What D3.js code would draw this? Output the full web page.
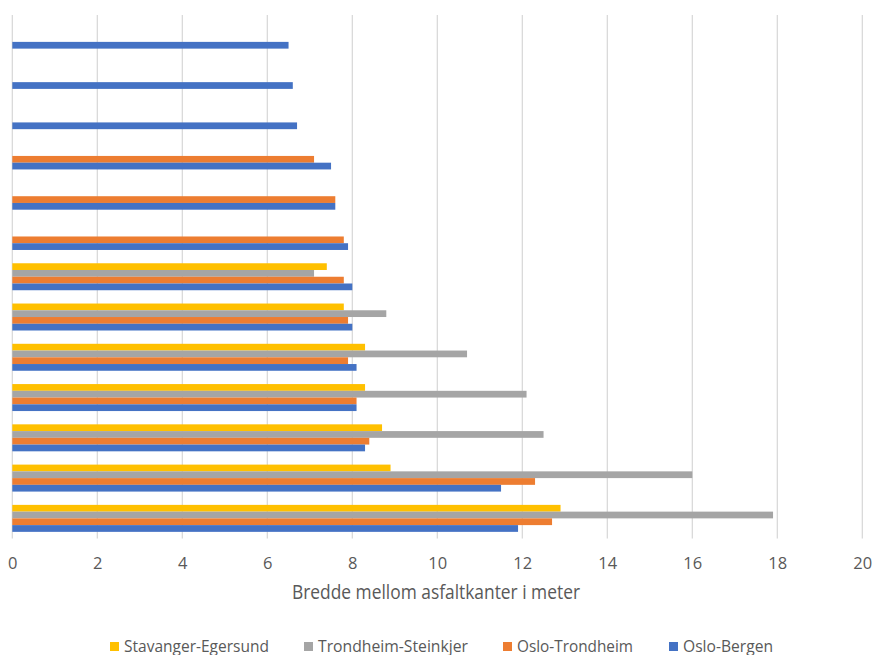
<!DOCTYPE html>
<html>
<head>
<meta charset="utf-8">
<script src="https://cdn.jsdelivr.net/npm/d3@7"></script>
<style>
  html, body { margin: 0; padding: 0; background: #ffffff; }
  svg { display: block; }
  text { font-family: "Open Sans", "Noto Sans", sans-serif; fill: #595959; }
</style>
</head>
<body>
<svg id="chart" width="875" height="655"></svg>
<script>
// Categories (unlabelled road-width groups, top to bottom)
const categories = ["1","2","3","4","5","6","7","8","9","10","11","12","13"];
// Series drawn top-to-bottom inside each group
const seriesNames = ["Stavanger-Egersund","Trondheim-Steinkjer","Oslo-Trondheim","Oslo-Bergen"];
const seriesColors = ["#FFC000","#A5A5A5","#ED7D31","#4472C4"];
// Values (metres); null = no bar
const stavangerEgersund  = [null, null, null, null, null, null, 7.4, 7.8, 8.3, 8.3, 8.7, 8.9, 12.9];
const trondheimSteinkjer = [null, null, null, null, null, null, 7.1, 8.8, 10.7, 12.1, 12.5, 16.0, 17.9];
const osloTrondheim      = [null, null, null, 7.1, 7.6, 7.8, 7.8, 7.9, 7.9, 8.1, 8.4, 12.3, 12.7];
const osloBergen         = [6.5, 6.6, 6.7, 7.5, 7.6, 7.9, 8.0, 8.0, 8.1, 8.1, 8.3, 11.5, 11.9];
const xTicks = [0,2,4,6,8,10,12,14,16,18,20];
const xTitle = "Bredde mellom asfaltkanter i meter";
// Legend order as shown
const legendOrder = ["Stavanger-Egersund","Trondheim-Steinkjer","Oslo-Trondheim","Oslo-Bergen"];

const seriesValues = [stavangerEgersund, trondheimSteinkjer, osloTrondheim, osloBergen];

const svg = d3.select("#chart");
const plot = { left: 12.3, right: 862.3, top: 15, bottom: 538.5 };

const x = d3.scaleLinear().domain([0, 20]).range([plot.left, plot.right]);
const y = d3.scaleBand().domain(categories).range([plot.top, plot.bottom])
  .paddingInner(0.33).paddingOuter(0.165);
const ySub = d3.scaleBand().domain(seriesNames).range([0, y.bandwidth()]);
const color = d3.scaleOrdinal().domain(seriesNames).range(seriesColors);

// Gridlines
svg.append("g").selectAll("line").data(xTicks).join("line")
  .attr("x1", d => x(d)).attr("x2", d => x(d))
  .attr("y1", plot.top).attr("y2", plot.bottom)
  .attr("stroke", "#D6D6D6").attr("stroke-width", 1.2);

// Bars
const rows = [];
categories.forEach((c, i) => {
  seriesNames.forEach((s, j) => {
    const v = seriesValues[j][i];
    if (v != null) rows.push({ c, s, v });
  });
});
svg.append("g").selectAll("rect").data(rows).join("rect")
  .attr("x", x(0))
  .attr("y", d => y(d.c) + ySub(d.s))
  .attr("width", d => x(d.v) - x(0))
  .attr("height", ySub.bandwidth())
  .attr("fill", d => color(d.s));

// X axis tick labels
const axis = d3.axisBottom(x).tickValues(xTicks).tickSize(0).tickPadding(0).tickFormat(d3.format("d"));
const gAxis = svg.append("g").attr("transform", `translate(0, 557)`).call(axis);
gAxis.select(".domain").remove();
gAxis.selectAll("text")
  .style("font-family", "'Open Sans', 'Noto Sans', sans-serif")
  .style("font-size", "16.5px")
  .attr("fill", "#595959")
  .attr("dy", null)
  .attr("y", 12.4);

// Axis title
svg.append("text")
  .attr("x", (292 + 580) / 2).attr("y", 599)
  .attr("text-anchor", "middle")
  .attr("textLength", 288).attr("lengthAdjust", "spacingAndGlyphs")
  .style("font-size", "19.5px")
  .text(xTitle);

// Legend
const legendX = [110, 304, 503, 669];
const legendTextW = [145, 150, 116, 90];
const lg = svg.append("g").selectAll("g").data(legendOrder).join("g")
  .attr("transform", (d, i) => `translate(${legendX[i]}, 642)`);
lg.append("rect").attr("width", 9).attr("height", 9).attr("fill", d => color(d));
lg.append("text")
  .attr("x", 14).attr("y", 9.5)
  .attr("textLength", (d, i) => legendTextW[i]).attr("lengthAdjust", "spacingAndGlyphs")
  .style("font-size", "16.5px")
  .text(d => d);
</script>
</body>
</html>
